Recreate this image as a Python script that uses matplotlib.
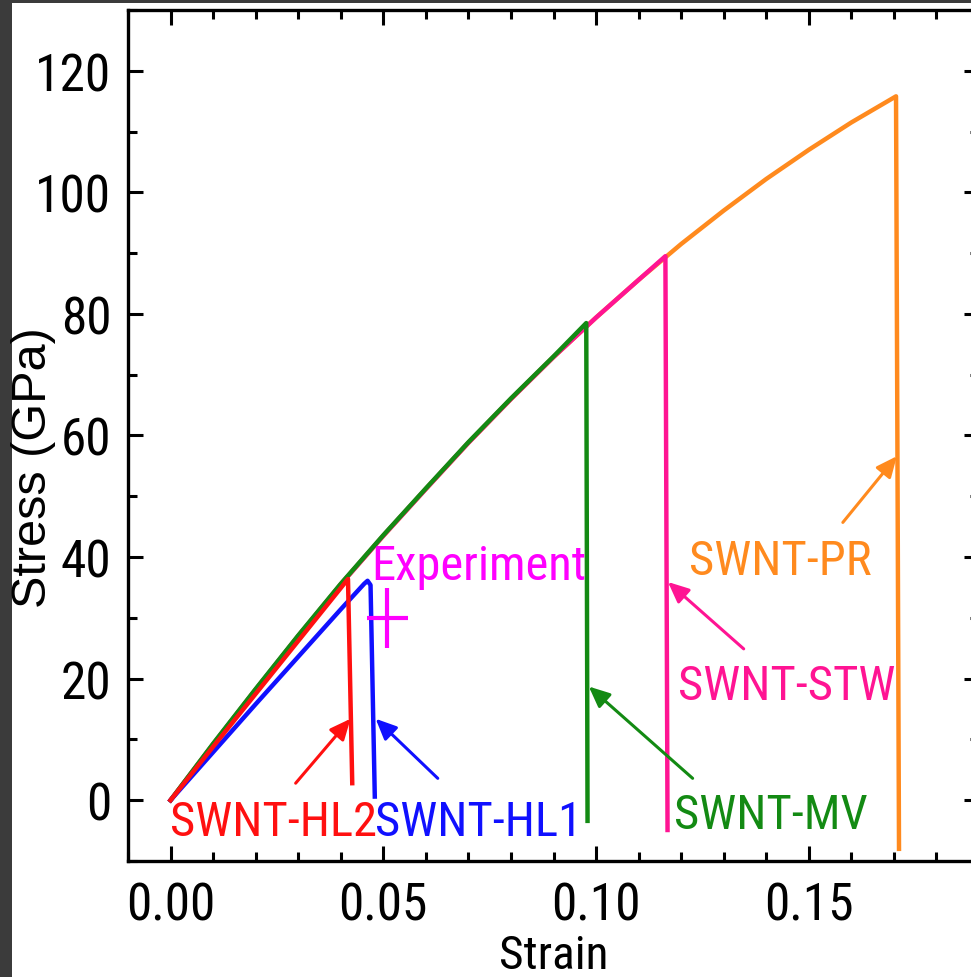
import matplotlib
matplotlib.use("Agg")
import matplotlib.pyplot as plt
from matplotlib import font_manager
from matplotlib.patches import Rectangle

# pick a narrow sans-serif face if one is installed
_narrow_files = ['LiberationSansNarrow-Regular', 'RobotoCondensed-Regular', 'Roboto-Condensed',
                 'RobotoCondensed[', 'NotoSans-Condensed.', 'NotoSans-Condensed-',
                 'NotoSans-SemiCondensed.', 'OpenSans-CondensedRegular', 'OpenSans_Condensed-Regular']
font_file = None
for key in _narrow_files:
    for entry in font_manager.fontManager.ttflist:
        if key in entry.fname.replace('\\', '/').split('/')[-1]:
            font_file = entry.fname
            break
    if font_file:
        break


def fp(size):
    if font_file:
        return font_manager.FontProperties(fname=font_file, size=size)
    return font_manager.FontProperties(family=['Liberation Sans', 'DejaVu Sans'], size=size * 0.85)


# ---- stress-strain data (strain, stress in GPa) ----
pr_strain = [0.000, 0.010, 0.020, 0.030, 0.040, 0.050, 0.060, 0.070, 0.080, 0.090,
             0.100, 0.110, 0.120, 0.130, 0.140, 0.150, 0.160, 0.1705, 0.1712]
pr_stress = [0.0, 9.2, 18.2, 27.0, 35.5, 43.5, 51.2, 58.8, 66.0, 72.9,
             79.4, 85.6, 91.5, 97.0, 102.2, 107.0, 111.5, 115.8, -8.0]

stw_strain = [0.000, 0.010, 0.020, 0.030, 0.040, 0.050, 0.060, 0.070, 0.080, 0.090,
              0.100, 0.110, 0.1163, 0.1168]
stw_stress = [0.0, 9.2, 18.2, 27.0, 35.5, 43.5, 51.2, 58.8, 66.0, 72.9,
              79.4, 85.6, 89.5, -4.9]

mv_strain = [0.000, 0.010, 0.020, 0.030, 0.040, 0.050, 0.060, 0.070, 0.080, 0.090,
             0.0977, 0.0980]
mv_stress = [0.0, 9.3, 18.3, 27.1, 35.6, 43.6, 51.3, 58.9, 66.1, 73.0,
             78.5, -3.4]

hl2_strain = [0.000, 0.010, 0.020, 0.030, 0.040, 0.0417, 0.0427]
hl2_stress = [0.0, 8.8, 17.5, 26.2, 34.9, 36.4, 2.8]

hl1_strain = [0.000, 0.010, 0.020, 0.030, 0.040, 0.0455, 0.0463, 0.0470, 0.0480]
hl1_stress = [0.0, 7.9, 15.8, 23.6, 31.4, 35.6, 36.1, 35.4, 0.6]

# experimental point with error bars
exp_strain, exp_stress = 0.0509, 30.0
exp_strain_err, exp_stress_err = 0.0048, 4.9

# tick labels
x_ticks = [0.00, 0.05, 0.10, 0.15]
x_ticklabels = ['0.00', '0.05', '0.10', '0.15']
y_ticks = [0, 20, 40, 60, 80, 100, 120]
y_ticklabels = ['0', '20', '40', '60', '80', '100', '120']

# colours
c_pr = '#ff8a1e'
c_stw = '#ff1493'
c_mv = '#138a13'
c_hl2 = '#ff1010'
c_hl1 = '#1010ff'
c_exp = '#ff00ff'

fig = plt.figure(figsize=(9.71, 9.78), dpi=100)
fig.patch.set_facecolor('#3b3b3b')
fig.add_artist(Rectangle((12 / 971, 0), 1, (978 - 3.5) / 978,
                         transform=fig.transFigure, facecolor='white',
                         edgecolor='none', zorder=0))

ax = fig.add_axes([128 / 971, 1 - 862 / 978, 851 / 971, 851 / 978])
ax.set_facecolor('white')

lw = 3.2
ax.plot(pr_strain, pr_stress, color=c_pr, lw=lw, zorder=2, solid_joinstyle='round')
ax.plot(stw_strain, stw_stress, color=c_stw, lw=lw, zorder=3, solid_joinstyle='round')
ax.plot(mv_strain, mv_stress, color=c_mv, lw=lw, zorder=4, solid_joinstyle='round')
ax.plot(hl1_strain, hl1_stress, color=c_hl1, lw=lw, zorder=5, solid_joinstyle='round')
ax.plot(hl2_strain, hl2_stress, color=c_hl2, lw=lw, zorder=6, solid_joinstyle='round')

ax.errorbar([exp_strain], [exp_stress], xerr=[exp_strain_err], yerr=[exp_stress_err],
            fmt='none', ecolor=c_exp, elinewidth=3, capsize=0, zorder=7)

# curve labels
fs_ann = 35
labels = [
    (0.0241, -5.74, 'SWNT-HL2', c_hl2),
    (0.0725, -5.74, 'SWNT-HL1', c_hl1),
    (0.0725, 36.4, 'Experiment', c_exp),
    (0.1432, 37.2, 'SWNT-PR', c_pr),
    (0.1448, 16.7, 'SWNT-STW', c_stw),
    (0.1411, -4.6, 'SWNT-MV', c_mv),
]
for x, y, s, col in labels:
    ax.text(x, y, s, color=col, fontproperties=fp(fs_ann), ha='center', va='baseline')

# arrows pointing at each failure drop
arrows = [
    ((0.0423, 13.4), (0.0294, 2.8), c_hl2),
    ((0.0482, 13.4), (0.0628, 3.6), c_hl1),
    ((0.0983, 18.7), (0.1227, 3.6), c_mv),
    ((0.1169, 35.9), (0.1347, 24.9), c_stw),
    ((0.1707, 56.6), (0.1580, 45.7), c_pr),
]
for head, tail, col in arrows:
    ax.annotate('', xy=head, xytext=tail,
                arrowprops=dict(arrowstyle='-|>,head_length=0.6,head_width=0.27',
                                color=col, lw=2.2, mutation_scale=21,
                                shrinkA=0, shrinkB=0), zorder=8)

ax.set_xlim(-0.01, 0.19)
ax.set_ylim(-10, 130)
ax.set_xticks(x_ticks)
ax.set_xticklabels(x_ticklabels, fontproperties=fp(37))
ax.set_xticks([i / 100 for i in range(-1, 20)], minor=True)
ax.set_yticks(y_ticks)
ax.set_yticklabels(y_ticklabels, fontproperties=fp(37))
ax.set_yticks(list(range(-10, 131, 10)), minor=True)

ax.tick_params(which='both', direction='in', top=True, right=True, width=2.2, color='black')
ax.tick_params(which='major', length=11)
ax.tick_params(which='minor', length=6.5)
ax.tick_params(axis='y', which='major', pad=12)
ax.tick_params(axis='x', which='major', pad=14)

for sp in ax.spines.values():
    sp.set_linewidth(2.4)

ax.set_xlabel('Strain', fontproperties=fp(34), labelpad=2)
ax.set_ylabel('Stress (GPa)', family=['Liberation Sans', 'DejaVu Sans'], fontsize=35)
ax.yaxis.set_label_coords(-0.1115, 0.4635)
ax.yaxis.label.set_va('center')

fig.savefig('out.png', dpi=100, facecolor=fig.get_facecolor())
